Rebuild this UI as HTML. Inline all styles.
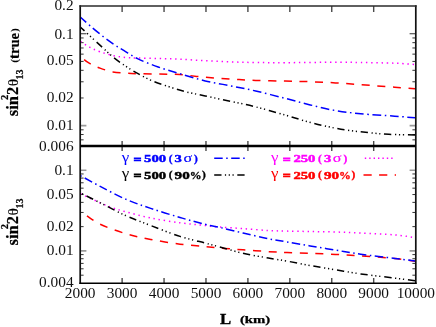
<!DOCTYPE html><html><head><meta charset="utf-8"><title>plot</title>
<style>html,body{margin:0;padding:0;background:#fff}svg{display:block;will-change:transform}text{font-family:"Liberation Serif",serif}</style></head><body>
<svg width="436" height="327" viewBox="0 0 436 327">
<rect width="436" height="327" fill="#fff"/>
<path d="M122.12,6.10v6M122.12,141.00v10M122.12,283.20v-5.3M164.05,6.10v6M164.05,141.00v10M164.05,283.20v-5.3M205.98,6.10v6M205.98,141.00v10M205.98,283.20v-5.3M247.90,6.10v6M247.90,141.00v10M247.90,283.20v-5.3M289.83,6.10v6M289.83,141.00v10M289.83,283.20v-5.3M331.75,6.10v6M331.75,141.00v10M331.75,283.20v-5.3M373.68,6.10v6M373.68,141.00v10M373.68,283.20v-5.3" stroke="#4a4a4a" stroke-width="1.4" fill="none"/>
<path d="M80.20,125.62h6.2M415.80,125.62h-6.2M80.20,170.27h6.2M415.80,170.27h-6.2M80.20,250.91h6.2M415.80,250.91h-6.2" stroke="#9a9a9a" stroke-width="1.6" fill="none"/>
<path d="M80.20,33.75h6.2M415.80,33.75h-6.2M80.20,37.96h3.4M415.80,37.96h-3.4M80.20,42.66h3.4M415.80,42.66h-3.4M80.20,47.98h3.4M415.80,47.98h-3.4M80.20,54.13h3.4M415.80,54.13h-3.4M80.20,61.41h3.4M415.80,61.41h-3.4M80.20,70.31h3.4M415.80,70.31h-3.4M80.20,81.79h3.4M415.80,81.79h-3.4M80.20,97.97h3.4M415.80,97.97h-3.4M80.20,129.82h3.4M415.80,129.82h-3.4M80.20,134.52h3.4M415.80,134.52h-3.4M80.20,139.85h3.4M415.80,139.85h-3.4M80.20,173.96h3.4M415.80,173.96h-3.4M80.20,178.09h3.4M415.80,178.09h-3.4M80.20,182.77h3.4M415.80,182.77h-3.4M80.20,188.16h3.4M415.80,188.16h-3.4M80.20,194.55h3.4M415.80,194.55h-3.4M80.20,202.36h3.4M415.80,202.36h-3.4M80.20,212.44h3.4M415.80,212.44h-3.4M80.20,226.64h3.4M415.80,226.64h-3.4M80.20,254.60h3.4M415.80,254.60h-3.4M80.20,258.73h3.4M415.80,258.73h-3.4M80.20,263.40h3.4M415.80,263.40h-3.4M80.20,268.80h3.4M415.80,268.80h-3.4M80.20,275.19h3.4M415.80,275.19h-3.4" stroke="#333" stroke-width="1.0" fill="none"/>
<path d="M80.50,41.50 C82.08,42.48 86.75,45.70 90.00,47.40 C93.25,49.10 96.20,50.35 100.00,51.70 C103.80,53.05 108.55,54.53 112.80,55.50 C117.05,56.47 121.30,57.08 125.50,57.50 C129.70,57.92 132.58,57.83 138.00,58.00 C143.42,58.17 151.00,58.30 158.00,58.50 C165.00,58.70 172.13,58.83 180.00,59.20 C187.87,59.57 196.78,60.25 205.20,60.70 C213.62,61.15 222.08,61.60 230.50,61.90 C238.92,62.20 246.62,62.37 255.70,62.50 C264.78,62.63 271.70,62.75 285.00,62.70 C298.30,62.65 322.88,62.23 335.50,62.20 C348.12,62.17 350.83,62.33 360.70,62.50 C370.57,62.67 385.65,62.87 394.70,63.20 C403.75,63.53 411.62,64.28 415.00,64.50" stroke="#ff00ff" stroke-width="1.5" stroke-dasharray="1.4 3.76" stroke-dashoffset="0" fill="none"/>
<path d="M80.50,55.50 C81.05,56.13 82.22,57.95 83.80,59.30 C85.38,60.65 87.30,62.13 90.00,63.60 C92.70,65.07 96.20,66.72 100.00,68.10 C103.80,69.48 108.55,71.05 112.80,71.90 C117.05,72.75 121.30,72.90 125.50,73.20 C129.70,73.50 132.58,73.55 138.00,73.70 C143.42,73.85 151.00,73.95 158.00,74.10 C165.00,74.25 172.13,74.07 180.00,74.60 C187.87,75.13 196.78,76.55 205.20,77.30 C213.62,78.05 222.08,78.58 230.50,79.10 C238.92,79.62 246.62,80.07 255.70,80.40 C264.78,80.73 275.92,80.88 285.00,81.10 C294.08,81.32 301.78,81.40 310.20,81.70 C318.62,82.00 327.08,82.40 335.50,82.90 C343.92,83.40 350.83,83.98 360.70,84.70 C370.57,85.42 385.65,86.53 394.70,87.20 C403.75,87.87 411.62,88.45 415.00,88.70" stroke="#ff0000" stroke-width="1.5" stroke-dasharray="8 7.6" stroke-dashoffset="10.1" fill="none"/>
<path d="M80.50,27.20 C83.78,30.23 94.82,40.47 100.20,45.40 C105.58,50.33 108.58,53.35 112.80,56.80 C117.02,60.25 121.30,63.28 125.50,66.10 C129.70,68.92 133.58,71.27 138.00,73.70 C142.42,76.13 146.95,78.57 152.00,80.70 C157.05,82.83 162.85,84.70 168.30,86.50 C173.75,88.30 178.55,89.92 184.70,91.50 C190.85,93.08 197.57,94.37 205.20,96.00 C212.83,97.63 222.08,99.48 230.50,101.30 C238.92,103.12 246.62,104.62 255.70,106.90 C264.78,109.18 276.65,112.62 285.00,115.00 C293.35,117.38 298.87,119.30 305.80,121.20 C312.73,123.10 319.68,124.90 326.60,126.40 C333.52,127.90 340.38,129.17 347.30,130.20 C354.22,131.23 361.17,131.92 368.10,132.60 C375.03,133.28 381.08,133.90 388.90,134.30 C396.72,134.70 410.65,134.88 415.00,135.00" stroke="#000000" stroke-width="1.5" stroke-dasharray="7.3 3.6 1.2 2.7 1.2 2.7 1.2 3.7" stroke-dashoffset="1.8" fill="none"/>
<path d="M80.50,17.20 C82.42,18.90 87.98,23.98 92.00,27.40 C96.02,30.82 100.88,34.83 104.60,37.70 C108.32,40.57 111.05,42.43 114.30,44.60 C117.55,46.77 120.15,48.32 124.10,50.70 C128.05,53.08 132.32,56.18 138.00,58.90 C143.68,61.62 151.20,64.52 158.20,67.00 C165.20,69.48 172.17,71.48 180.00,73.80 C187.83,76.12 196.78,78.90 205.20,80.90 C213.62,82.90 222.08,84.12 230.50,85.80 C238.92,87.48 246.62,88.92 255.70,91.00 C264.78,93.08 275.92,95.98 285.00,98.30 C294.08,100.62 301.78,102.85 310.20,104.90 C318.62,106.95 327.08,109.13 335.50,110.60 C343.92,112.07 350.83,112.77 360.70,113.70 C370.57,114.63 385.65,115.53 394.70,116.20 C403.75,116.87 411.62,117.45 415.00,117.70" stroke="#0000ff" stroke-width="1.5" stroke-dasharray="8.7 3.6 1.54 3.6" stroke-dashoffset="1" fill="none"/>
<path d="M80.50,193.80 C83.78,195.30 94.82,200.45 100.20,202.80 C105.58,205.15 108.58,206.42 112.80,207.90 C117.02,209.38 119.18,210.02 125.50,211.70 C131.82,213.38 141.62,216.15 150.70,218.00 C159.78,219.85 170.92,221.55 180.00,222.80 C189.08,224.05 198.47,224.78 205.20,225.50 C211.93,226.22 214.10,226.58 220.40,227.10 C226.70,227.62 235.02,228.03 243.00,228.60 C250.98,229.17 260.97,230.08 268.30,230.50 C275.63,230.92 280.02,230.93 287.00,231.10 C293.98,231.27 302.12,231.35 310.20,231.50 C318.28,231.65 327.08,231.75 335.50,232.00 C343.92,232.25 350.83,232.52 360.70,233.00 C370.57,233.48 385.65,234.13 394.70,234.90 C403.75,235.67 411.62,237.15 415.00,237.60" stroke="#ff00ff" stroke-width="1.5" stroke-dasharray="1.4 3.76" stroke-dashoffset="0" fill="none"/>
<path d="M80.50,212.00 C81.48,212.58 83.12,213.45 86.40,215.50 C89.68,217.55 93.68,221.28 100.20,224.30 C106.72,227.32 117.08,231.08 125.50,233.60 C133.92,236.12 141.62,237.63 150.70,239.40 C159.78,241.17 170.92,243.02 180.00,244.20 C189.08,245.38 198.05,245.82 205.20,246.50 C212.35,247.18 216.60,247.75 222.90,248.30 C229.20,248.85 235.43,249.25 243.00,249.80 C250.57,250.35 260.97,251.13 268.30,251.60 C275.63,252.07 280.02,252.32 287.00,252.60 C293.98,252.88 302.12,253.00 310.20,253.30 C318.28,253.60 327.08,253.97 335.50,254.40 C343.92,254.83 350.83,255.23 360.70,255.90 C370.57,256.57 385.65,257.50 394.70,258.40 C403.75,259.30 411.62,260.82 415.00,261.30" stroke="#ff0000" stroke-width="1.5" stroke-dasharray="8 7.6" stroke-dashoffset="8.0" fill="none"/>
<path d="M80.50,193.00 C83.78,194.63 92.70,199.05 100.20,202.80 C107.70,206.55 117.08,211.72 125.50,215.50 C133.92,219.28 141.62,222.02 150.70,225.50 C159.78,228.98 170.92,233.48 180.00,236.40 C189.08,239.32 198.90,241.33 205.20,243.00 C211.50,244.67 211.50,244.68 217.80,246.40 C224.10,248.12 234.58,251.37 243.00,253.30 C251.42,255.23 260.97,256.70 268.30,258.00 C275.63,259.30 280.02,259.85 287.00,261.10 C293.98,262.35 302.12,264.05 310.20,265.50 C318.28,266.95 327.08,268.40 335.50,269.80 C343.92,271.20 350.83,272.52 360.70,273.90 C370.57,275.28 385.65,276.97 394.70,278.10 C403.75,279.23 411.62,280.27 415.00,280.70" stroke="#000000" stroke-width="1.5" stroke-dasharray="7.3 3.6 1.2 2.75 1.2 2.75 1.2 3.86" stroke-dashoffset="16.96" fill="none"/>
<path d="M80.50,175.70 C83.78,177.48 92.70,182.50 100.20,186.40 C107.70,190.30 117.08,195.43 125.50,199.10 C133.92,202.77 141.62,205.33 150.70,208.40 C159.78,211.47 170.92,214.85 180.00,217.50 C189.08,220.15 198.47,222.62 205.20,224.30 C211.93,225.98 214.10,226.15 220.40,227.60 C226.70,229.05 235.02,231.15 243.00,233.00 C250.98,234.85 260.97,237.22 268.30,238.70 C275.63,240.18 280.02,240.70 287.00,241.90 C293.98,243.10 302.12,244.53 310.20,245.90 C318.28,247.27 327.08,248.72 335.50,250.10 C343.92,251.48 350.83,252.82 360.70,254.20 C370.57,255.58 385.65,257.28 394.70,258.40 C403.75,259.52 411.62,260.48 415.00,260.90" stroke="#0000ff" stroke-width="1.5" stroke-dasharray="8.4 3.45 1.5 3.43" stroke-dashoffset="11.85" fill="none"/>
<path d="M80.20,5.35V283.95 M415.80,5.35V283.95" stroke="#111" stroke-width="1.7" fill="none"/>
<path d="M79.40,6.10H416.60" stroke="#2a2a2a" stroke-width="1.5" fill="none"/>
<path d="M79.40,283.20H416.60" stroke="#000" stroke-width="1.55" fill="none"/>
<path d="M80.20,146.00H415.60" stroke="#000" stroke-width="2.3"/>
<text transform="translate(73.60,10.20) scale(1.120,1)" font-size="13.7" text-anchor="end" fill="#111">0.2</text>
<text transform="translate(73.60,38.95) scale(1.120,1)" font-size="13.7" text-anchor="end" fill="#111">0.1</text>
<text transform="translate(73.60,65.41) scale(1.120,1)" font-size="13.7" text-anchor="end" fill="#111">0.05</text>
<text transform="translate(73.60,102.47) scale(1.120,1)" font-size="13.7" text-anchor="end" fill="#111">0.02</text>
<text transform="translate(73.60,130.12) scale(1.120,1)" font-size="13.7" text-anchor="end" fill="#111">0.01</text>
<text transform="translate(73.60,150.50) scale(1.120,1)" font-size="13.7" text-anchor="end" fill="#111">0.006</text>
<text transform="translate(73.60,174.77) scale(1.120,1)" font-size="13.7" text-anchor="end" fill="#111">0.1</text>
<text transform="translate(73.60,199.05) scale(1.120,1)" font-size="13.7" text-anchor="end" fill="#111">0.05</text>
<text transform="translate(73.60,231.14) scale(1.120,1)" font-size="13.7" text-anchor="end" fill="#111">0.02</text>
<text transform="translate(73.60,255.41) scale(1.120,1)" font-size="13.7" text-anchor="end" fill="#111">0.01</text>
<text transform="translate(73.60,286.90) scale(1.120,1)" font-size="13.7" text-anchor="end" fill="#111">0.004</text>
<text transform="translate(80.20,297.80) scale(1.120,1)" font-size="13.7" text-anchor="middle" fill="#111">2000</text>
<text transform="translate(122.12,297.80) scale(1.120,1)" font-size="13.7" text-anchor="middle" fill="#111">3000</text>
<text transform="translate(164.05,297.80) scale(1.120,1)" font-size="13.7" text-anchor="middle" fill="#111">4000</text>
<text transform="translate(205.98,297.80) scale(1.120,1)" font-size="13.7" text-anchor="middle" fill="#111">5000</text>
<text transform="translate(247.90,297.80) scale(1.120,1)" font-size="13.7" text-anchor="middle" fill="#111">6000</text>
<text transform="translate(289.83,297.80) scale(1.120,1)" font-size="13.7" text-anchor="middle" fill="#111">7000</text>
<text transform="translate(331.75,297.80) scale(1.120,1)" font-size="13.7" text-anchor="middle" fill="#111">8000</text>
<text transform="translate(373.68,297.80) scale(1.120,1)" font-size="13.7" text-anchor="middle" fill="#111">9000</text>
<text transform="translate(415.80,297.80) scale(1.120,1)" font-size="13.7" text-anchor="middle" fill="#111">10000</text>
<g fill="#0000ff" stroke="#0000ff" stroke-width="0.3" font-weight="bold">
<text x="121.7" y="161.9" font-size="14.2" textLength="7.5" lengthAdjust="spacingAndGlyphs" font-weight="normal" stroke-width="0">γ</text>
<text x="133.7" y="163.0" font-size="10.0" textLength="7.5" lengthAdjust="spacingAndGlyphs" stroke-width="0.9">=</text>
<text x="144.1" y="162.4" font-size="10.9" textLength="22.1" lengthAdjust="spacingAndGlyphs" stroke-width="0.45">500</text>
<text x="168.7" y="162.1" font-size="9.3" textLength="3.8" lengthAdjust="spacingAndGlyphs" >(</text>
<text x="174.6" y="162.4" font-size="10.9" textLength="7.3" lengthAdjust="spacingAndGlyphs" stroke-width="0.45">3</text>
<text x="183.5" y="162.4" font-size="13.0" textLength="8.7" lengthAdjust="spacingAndGlyphs" font-weight="normal" stroke-width="0.2">σ</text>
<text x="194.1" y="162.1" font-size="9.3" textLength="3.8" lengthAdjust="spacingAndGlyphs" >)</text>
</g>
<g fill="#000000" stroke="#000000" stroke-width="0.3" font-weight="bold">
<text x="121.7" y="178.2" font-size="14.2" textLength="7.5" lengthAdjust="spacingAndGlyphs" font-weight="normal" stroke-width="0">γ</text>
<text x="133.7" y="179.3" font-size="10.0" textLength="7.5" lengthAdjust="spacingAndGlyphs" stroke-width="0.9">=</text>
<text x="144.1" y="178.7" font-size="10.9" textLength="22.1" lengthAdjust="spacingAndGlyphs" stroke-width="0.45">500</text>
<text x="168.7" y="178.4" font-size="9.3" textLength="3.8" lengthAdjust="spacingAndGlyphs" >(</text>
<text x="174.6" y="178.7" font-size="10.9" textLength="15.1" lengthAdjust="spacingAndGlyphs" stroke-width="0.45">90</text>
<text x="189.7" y="178.7" font-size="10.9" textLength="11.8" lengthAdjust="spacingAndGlyphs" >%</text>
<text x="202.1" y="178.4" font-size="9.3" textLength="3.8" lengthAdjust="spacingAndGlyphs" >)</text>
</g>
<g fill="#ff00ff" stroke="#ff00ff" stroke-width="0.3" font-weight="bold">
<text x="271.0" y="161.9" font-size="14.2" textLength="7.5" lengthAdjust="spacingAndGlyphs" font-weight="normal" stroke-width="0">γ</text>
<text x="283.0" y="163.0" font-size="10.0" textLength="7.5" lengthAdjust="spacingAndGlyphs" stroke-width="0.9">=</text>
<text x="293.4" y="162.4" font-size="10.9" textLength="22.1" lengthAdjust="spacingAndGlyphs" stroke-width="0.45">250</text>
<text x="318.0" y="162.1" font-size="9.3" textLength="3.8" lengthAdjust="spacingAndGlyphs" >(</text>
<text x="323.9" y="162.4" font-size="10.9" textLength="7.3" lengthAdjust="spacingAndGlyphs" stroke-width="0.45">3</text>
<text x="332.8" y="162.4" font-size="13.0" textLength="8.7" lengthAdjust="spacingAndGlyphs" font-weight="normal" stroke-width="0.2">σ</text>
<text x="343.4" y="162.1" font-size="9.3" textLength="3.8" lengthAdjust="spacingAndGlyphs" >)</text>
</g>
<g fill="#ff0000" stroke="#ff0000" stroke-width="0.3" font-weight="bold">
<text x="271.0" y="178.2" font-size="14.2" textLength="7.5" lengthAdjust="spacingAndGlyphs" font-weight="normal" stroke-width="0">γ</text>
<text x="283.0" y="179.3" font-size="10.0" textLength="7.5" lengthAdjust="spacingAndGlyphs" stroke-width="0.9">=</text>
<text x="293.4" y="178.7" font-size="10.9" textLength="22.1" lengthAdjust="spacingAndGlyphs" stroke-width="0.45">250</text>
<text x="318.0" y="178.4" font-size="9.3" textLength="3.8" lengthAdjust="spacingAndGlyphs" >(</text>
<text x="323.9" y="178.7" font-size="10.9" textLength="15.1" lengthAdjust="spacingAndGlyphs" stroke-width="0.45">90</text>
<text x="339.0" y="178.7" font-size="10.9" textLength="11.8" lengthAdjust="spacingAndGlyphs" >%</text>
<text x="351.4" y="178.4" font-size="9.3" textLength="3.8" lengthAdjust="spacingAndGlyphs" >)</text>
</g>
<path d="M214.2,158.2H245.2" stroke="#0000ff" stroke-width="1.5" stroke-dasharray="8.5 3.5 1.5 3.5" fill="none"/>
<path d="M214.2,175H244.7" stroke="#000" stroke-width="1.5" stroke-dasharray="7.3 3.4 1.2 2.6 1.2 2.6 1.2 3.6" fill="none"/>
<path d="M364.8,158.2H393.5" stroke="#ff00ff" stroke-width="1.5" stroke-dasharray="1.4 3.0" fill="none"/>
<path d="M363.5,175H396" stroke="#ff0000" stroke-width="1.5" stroke-dasharray="8.2 7.4" fill="none"/>
<g transform="translate(18.2,116.2) rotate(-90)" font-weight="bold" fill="#000" stroke="#000" stroke-width="0.25">
<text x="0" y="0" font-size="16.3" textLength="20.1" lengthAdjust="spacingAndGlyphs">sin</text>
<text x="16.2" y="-10.2" font-size="9.6" textLength="5.2" lengthAdjust="spacingAndGlyphs">2</text>
<text x="21.2" y="0" font-size="16.3">2</text>
<text x="29.9" y="0" font-size="15.3" font-weight="normal" stroke-width="0.1">θ</text>
<text x="36.8" y="4.7" font-size="11" textLength="10" lengthAdjust="spacingAndGlyphs">13</text>
</g>
<g transform="translate(18.6,63.0) rotate(-90)" font-weight="bold" fill="#000" stroke="#000" stroke-width="0.2">
<text x="0.2" y="-0.9" font-size="11.4" stroke-width="0">(</text>
<text x="4.1" y="0" font-size="13.7" textLength="25.9" lengthAdjust="spacingAndGlyphs">true</text>
<text x="31.0" y="-0.9" font-size="11.4" stroke-width="0">)</text>
</g>
<g transform="translate(18.2,245.4) rotate(-90)" font-weight="bold" fill="#000" stroke="#000" stroke-width="0.25">
<text x="0" y="0" font-size="16.3" textLength="20.1" lengthAdjust="spacingAndGlyphs">sin</text>
<text x="16.2" y="-10.2" font-size="9.6" textLength="5.2" lengthAdjust="spacingAndGlyphs">2</text>
<text x="21.2" y="0" font-size="16.3">2</text>
<text x="29.9" y="0" font-size="15.3" font-weight="normal" stroke-width="0.1">θ</text>
<text x="36.8" y="4.7" font-size="11" textLength="10" lengthAdjust="spacingAndGlyphs">13</text>
</g>
<text x="220.1" y="323.7" font-weight="bold" font-size="14.3" stroke="#000" stroke-width="0.3" textLength="11.2" lengthAdjust="spacingAndGlyphs" fill="#000">L</text>
<text x="239.9" y="323.3" font-weight="bold" font-size="10.4" stroke="#000" stroke-width="0.25" textLength="30.3" lengthAdjust="spacingAndGlyphs" fill="#000">(km)</text>
</svg></body></html>
